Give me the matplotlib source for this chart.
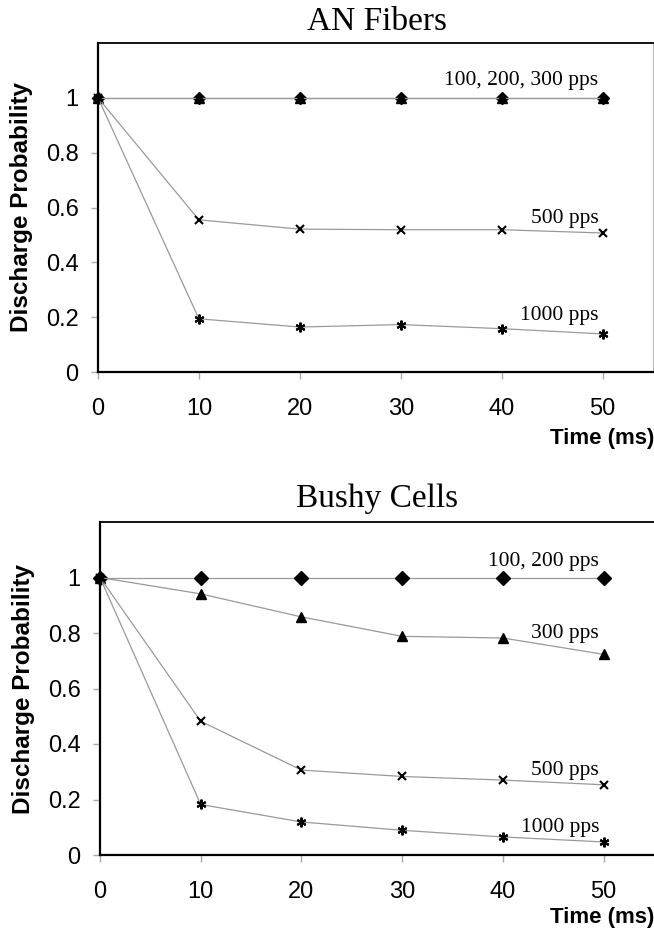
import matplotlib
matplotlib.use("Agg")
import matplotlib.pyplot as plt

# time points (ms)
time_ms = [0, 10, 20, 30, 40, 50]

# AN fibers
an_low = [1, 1, 1, 1, 1, 1]            # 100, 200, 300 pps
an_500 = [1, 0.555, 0.521, 0.519, 0.519, 0.507]
an_1000 = [1, 0.194, 0.164, 0.173, 0.158, 0.139]

# bushy cells
bc_low = [1, 1, 1, 1, 1, 1]            # 100, 200 pps
bc_300 = [1, 0.941, 0.858, 0.788, 0.782, 0.723]
bc_500 = [1, 0.482, 0.306, 0.283, 0.270, 0.253]
bc_1000 = [1, 0.182, 0.119, 0.089, 0.065, 0.047]

yticks = [0, 0.2, 0.4, 0.6, 0.8, 1]
ytick_labels = ["0", "0.2", "0.4", "0.6", "0.8", "1"]
xticks = [0, 10, 20, 30, 40, 50]

SERIF = "Liberation Serif"
SANS = "Liberation Sans"
LINE = "#999999"
star = (6, 2, 0)


def setup_axes(ax, right_spine=True):
    ax.set_xlim(0, 55)
    ax.set_ylim(0, 1.2)
    ax.set_xticks(xticks)
    ax.set_yticks(yticks)
    ax.set_yticklabels(ytick_labels)
    for lab in ax.get_xticklabels() + ax.get_yticklabels():
        lab.set_fontfamily(SANS)
        lab.set_fontsize(17)
    ax.tick_params(axis="y", direction="out", length=5, width=1,
                   color="#aaaaaa", pad=9)
    ax.tick_params(axis="x", direction="out", length=5, width=1,
                   color="#aaaaaa", pad=14)
    ax.spines["left"].set_linewidth(1.6)
    ax.spines["bottom"].set_linewidth(1.6)
    ax.spines["top"].set_linewidth(1.3)
    if right_spine:
        ax.spines["right"].set_color("#bbbbbb")
        ax.spines["right"].set_linewidth(0.8)
    else:
        ax.spines["right"].set_visible(False)
    ax.set_ylabel("Discharge Probability", fontfamily=SANS,
                  fontweight="bold", fontsize=17.5, labelpad=9)


def series(ax, y, marker, ms, mew=1.0):
    ax.plot(time_ms, y, color=LINE, lw=0.9, marker=marker, ms=ms,
            mfc="black", mec="black", mew=mew, clip_on=False, zorder=3)


fig = plt.figure(figsize=(6.54, 9.32), dpi=100)

# ---- AN fibers ----
ax1 = fig.add_axes([98 / 654, 1 - 372 / 932, 555 / 654, 329 / 932])
setup_axes(ax1)
series(ax1, an_low, "D", 6)
series(ax1, an_low, "^", 7)
series(ax1, an_500, "x", 6, 1.5)
series(ax1, an_1000, star, 7, 1.5)
ax1.text(49.6, 1.047, "100, 200, 300 pps", ha="right", va="baseline",
         fontfamily=SERIF, fontsize=15.5)
ax1.text(49.6, 0.542, "500 pps", ha="right", va="baseline",
         fontfamily=SERIF, fontsize=15.5)
ax1.text(49.6, 0.189, "1000 pps", ha="right", va="baseline",
         fontfamily=SERIF, fontsize=15.5)
fig.text(377 / 654, 1 - 22 / 932, "AN Fibers", ha="center", va="center",
         fontfamily=SERIF, fontsize=24)
fig.text(1.0, 1 - 438 / 932, "Time (ms)", ha="right", va="center",
         fontfamily=SANS, fontweight="bold", fontsize=16)

# ---- bushy cells ----
ax2 = fig.add_axes([100 / 654, 1 - 855 / 932, 554 / 654, 333 / 932])
setup_axes(ax2, right_spine=False)
series(ax2, bc_low, "D", 7)
series(ax2, bc_300, "^", 7)
series(ax2, bc_500, "x", 6, 1.5)
series(ax2, bc_1000, star, 7, 1.5)
ax2.text(49.5, 1.043, "100, 200 pps", ha="right", va="baseline",
         fontfamily=SERIF, fontsize=15.5)
ax2.text(49.5, 0.782, "300 pps", ha="right", va="baseline",
         fontfamily=SERIF, fontsize=15.5)
ax2.text(49.5, 0.288, "500 pps", ha="right", va="baseline",
         fontfamily=SERIF, fontsize=15.5)
ax2.text(49.6, 0.083, "1000 pps", ha="right", va="baseline",
         fontfamily=SERIF, fontsize=15.5)
fig.text(377 / 654, 1 - 499 / 932, "Bushy Cells", ha="center", va="center",
         fontfamily=SERIF, fontsize=24)
fig.text(1.0, 1 - 918 / 932, "Time (ms)", ha="right", va="center",
         fontfamily=SANS, fontweight="bold", fontsize=16)

fig.savefig("out.png", dpi=100)
